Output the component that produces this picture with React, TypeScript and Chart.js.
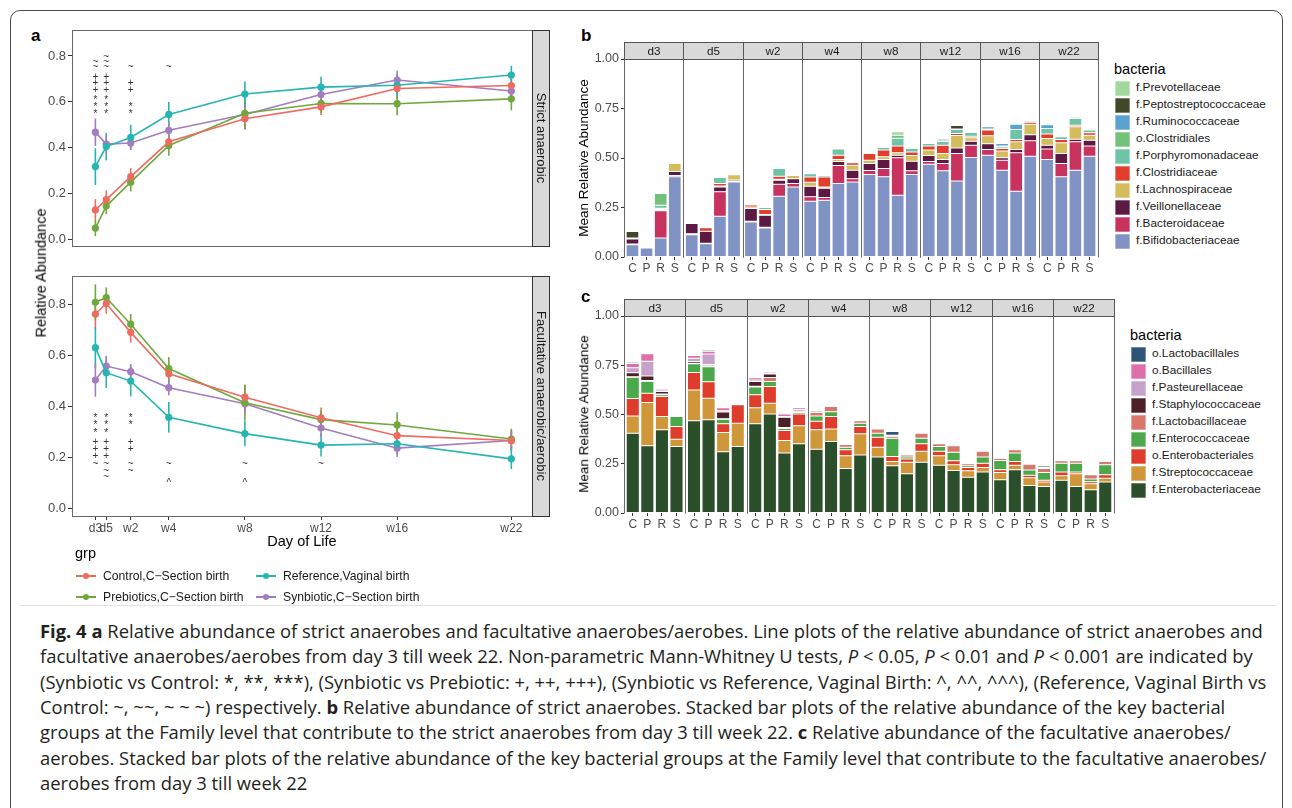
import React, { useEffect, useRef } from "react";
import { Chart, registerables } from "chart.js";

Chart.register(...registerables);

const SANS = "'Liberation Sans', Arial, Helvetica, sans-serif";
Chart.defaults.font.family = SANS;
Chart.defaults.color = "#4d4d4d";

// ================= Panel a : line plots =================
const timeLabels = ["d3", "d5", "w2", "w4", "w8", "w12", "w16", "w22"];
const timeAxisDays = [1, 5, 14, 28, 56, 84, 112, 154];
const groupNames = [
  "Control,C\u2212Section birth",
  "Prebiotics,C\u2212Section birth",
  "Reference,Vaginal birth",
  "Synbiotic,C\u2212Section birth",
];
const groupColors = ["#ee6b60", "#6fa83d", "#26b5b3", "#a27dbf"];

const strictControl = [0.129, 0.174, 0.274, 0.426, 0.526, 0.578, 0.658, 0.671];
const strictPrebiotic = [0.05, 0.146, 0.25, 0.41, 0.55, 0.593, 0.592, 0.613];
const strictReference = [0.318, 0.405, 0.445, 0.545, 0.634, 0.664, 0.672, 0.717];
const strictSynbiotic = [0.468, 0.416, 0.421, 0.476, 0.545, 0.632, 0.695, 0.647];
const strictControlErr = [0.047, 0.04, 0.037, 0.035, 0.045, 0.035, 0.045, 0.035];
const strictPrebioticErr = [0.035, 0.035, 0.04, 0.045, 0.07, 0.04, 0.05, 0.05];
const strictReferenceErr = [0.08, 0.06, 0.055, 0.055, 0.055, 0.045, 0.05, 0.04];
const strictSynbioticErr = [0.06, 0.04, 0.03, 0.035, 0.04, 0.04, 0.04, 0.035];

const facControl = [0.764, 0.805, 0.692, 0.53, 0.438, 0.357, 0.287, 0.268];
const facPrebiotic = [0.81, 0.828, 0.724, 0.55, 0.416, 0.35, 0.329, 0.274];
const facReference = [0.632, 0.534, 0.501, 0.359, 0.295, 0.25, 0.255, 0.196];
const facSynbiotic = [0.505, 0.56, 0.538, 0.475, 0.412, 0.317, 0.238, 0.268];
const facControlErr = [0.06, 0.04, 0.04, 0.04, 0.05, 0.04, 0.05, 0.04];
const facPrebioticErr = [0.07, 0.04, 0.04, 0.045, 0.07, 0.035, 0.05, 0.04];
const facReferenceErr = [0.08, 0.06, 0.06, 0.06, 0.05, 0.045, 0.04, 0.04];
const facSynbioticErr = [0.065, 0.04, 0.03, 0.03, 0.04, 0.035, 0.035, 0.035];

// significance marks: rows of "*", "+", "~", "^"
const sigSymbols = ["*", "+", "~", "^"];
const strictSigTimes = ["d3", "d5", "w2", "w4"];
const strictSigCounts = [[3, 3, 2, 0], [3, 3, 3, 0], [2, 2, 1, 0], [0, 0, 1, 0]];
const strictSigRowStart = [0.56, 0.655, 0.75, 0];
const strictSigRowStep = [0.029, 0.028, 0.022, 0];
const facSigTimes = ["d3", "d5", "w2", "w4", "w8", "w12"];
const facSigCounts = [[3, 3, 1, 0], [3, 3, 3, 0], [2, 2, 2, 0], [0, 0, 1, 1], [0, 0, 1, 1], [0, 0, 1, 0]];
const facSigRowStart = [0.368, 0.264, 0.176, 0.11];
const facSigRowStep = [-0.03, -0.027, -0.026, 0];

// ================= Panels b, c : stacked bars =================
const facetLabels = ["d3", "d5", "w2", "w4", "w8", "w12", "w16", "w22"];
const groupLetters = ["C", "P", "R", "S"];

// panel b (strict anaerobes), order per facet C,P,R,S ; stack bottom -> top
const strictTaxa = [
  "f.Bifidobacteriaceae", "f.Bacteroidaceae", "f.Veillonellaceae", "f.Lachnospiraceae",
  "f.Clostridiaceae", "f.Porphyromonadaceae", "o.Clostridiales", "f.Ruminococcaceae",
  "f.Peptostreptococcaceae", "f.Prevotellaceae",
];
const strictTaxaColors = [
  "#8093c4", "#c7325f", "#5b1944", "#d5bc5d", "#e13e2d",
  "#6dc4a7", "#74c17b", "#5aa3cf", "#3f4927", "#a3d89d",
];
const bBifidobacteriaceae = [0.062, 0.046, 0.096, 0.405, 0.113, 0.067, 0.206, 0.379, 0.177, 0.147, 0.307, 0.354, 0.282, 0.287, 0.371, 0.379, 0.417, 0.405, 0.312, 0.417, 0.469, 0.435, 0.384, 0.502, 0.514, 0.438, 0.332, 0.509, 0.492, 0.405, 0.438, 0.509];
const bBacteroidaceae = [0.004, 0.002, 0.138, 0.007, 0.004, 0.002, 0.123, 0.004, 0.003, 0.003, 0.061, 0.017, 0.022, 0.013, 0.091, 0.016, 0.02, 0.042, 0.189, 0.018, 0.013, 0.037, 0.139, 0.063, 0.029, 0.051, 0.194, 0.078, 0.054, 0.067, 0.144, 0.051];
const bVeillonellaceae = [0.025, 0, 0.004, 0.02, 0.052, 0.061, 0.025, 0.006, 0.065, 0.061, 0.02, 0.024, 0.053, 0.047, 0.02, 0.043, 0.035, 0.045, 0.013, 0.049, 0.031, 0.02, 0.028, 0.02, 0.029, 0.012, 0.017, 0.03, 0.019, 0.051, 0.013, 0.03];
const bLachnospiraceae = [0, 0.002, 0.003, 0.04, 0.003, 0, 0.005, 0.027, 0.007, 0.004, 0.005, 0.016, 0.02, 0.007, 0.01, 0.026, 0.017, 0.014, 0.012, 0.029, 0.027, 0.031, 0.063, 0.017, 0.04, 0.034, 0.039, 0.054, 0.034, 0.054, 0.063, 0.025];
const bClostridiaceae = [0, 0.006, 0.005, 0, 0, 0.018, 0.012, 0, 0.01, 0.025, 0.015, 0.006, 0.027, 0.05, 0.022, 0.012, 0.034, 0.034, 0.034, 0.017, 0.02, 0.042, 0.01, 0.008, 0.029, 0.013, 0.012, 0.01, 0.022, 0.017, 0.008, 0.012];
const bPorphyromonadaceae = [0.002, 0, 0.015, 0, 0.002, 0, 0.03, 0, 0.005, 0.01, 0.039, 0, 0.017, 0.008, 0.031, 0, 0.003, 0.013, 0.04, 0.018, 0.013, 0.018, 0.02, 0.019, 0.005, 0.008, 0.05, 0.006, 0.028, 0.013, 0.034, 0.014];
const bClostridiales = [0.003, 0, 0.06, 0, 0.002, 0, 0.003, 0, 0, 0, 0, 0, 0, 0, 0, 0, 0, 0, 0.015, 0, 0, 0.004, 0.003, 0, 0, 0.005, 0, 0, 0, 0, 0.006, 0];
const bRuminococcaceae = [0, 0, 0, 0, 0, 0, 0, 0, 0, 0, 0, 0, 0, 0, 0, 0, 0, 0, 0, 0, 0.005, 0, 0, 0, 0.012, 0.012, 0.027, 0, 0.019, 0.005, 0, 0.005];
const bPeptostreptococcaceae = [0.033, 0, 0, 0, 0, 0, 0, 0, 0, 0, 0, 0, 0.005, 0, 0, 0, 0, 0, 0, 0, 0, 0.008, 0.017, 0, 0, 0, 0, 0, 0, 0, 0.004, 0];
const bPrevotellaceae = [0, 0, 0, 0, 0, 0, 0, 0, 0, 0, 0, 0, 0, 0, 0, 0, 0, 0, 0.017, 0, 0, 0, 0, 0, 0, 0.005, 0, 0, 0, 0, 0, 0];
const strictTaxaValues = [
  bBifidobacteriaceae, bBacteroidaceae, bVeillonellaceae, bLachnospiraceae, bClostridiaceae,
  bPorphyromonadaceae, bClostridiales, bRuminococcaceae, bPeptostreptococcaceae, bPrevotellaceae,
];

// panel c (facultative anaerobes/aerobes)
const facTaxa = [
  "f.Enterobacteriaceae", "f.Streptococcaceae", "o.Enterobacteriales", "f.Enterococcaceae",
  "f.Lactobacillaceae", "f.Staphylococcaceae", "f.Pasteurellaceae", "o.Bacillales", "o.Lactobacillales",
];
const facTaxaColors = [
  "#2c4f2b", "#d0963a", "#e03c2c", "#4ba94b", "#d8786d", "#4d2029", "#c6a2cb", "#dd70ab", "#2f5478",
];
const cEnterobacteriaceae = [0.405, 0.341, 0.422, 0.338, 0.468, 0.473, 0.311, 0.338, 0.453, 0.503, 0.304, 0.351, 0.324, 0.363, 0.226, 0.294, 0.284, 0.24, 0.199, 0.257, 0.242, 0.216, 0.181, 0.208, 0.169, 0.22, 0.139, 0.135, 0.166, 0.135, 0.118, 0.157];
const cStreptococcaceae = [0.088, 0.22, 0.068, 0.037, 0.157, 0.11, 0.098, 0.118, 0.081, 0.054, 0.064, 0.092, 0.098, 0.063, 0.065, 0.108, 0.05, 0.022, 0.058, 0.057, 0.049, 0.029, 0.034, 0.023, 0.037, 0.022, 0.04, 0.022, 0.023, 0.064, 0.031, 0.02];
const cEnterobacteriales = [0.088, 0.047, 0.101, 0.064, 0.088, 0.083, 0.044, 0.093, 0.066, 0.085, 0.051, 0.06, 0.044, 0.064, 0.03, 0.037, 0.051, 0.025, 0.017, 0.037, 0.022, 0.02, 0.016, 0.022, 0.014, 0.02, 0.012, 0.009, 0.019, 0.009, 0.01, 0.017];
const cEnterococcaceae = [0.108, 0.061, 0.009, 0.051, 0.044, 0.077, 0.023, 0.006, 0.039, 0.025, 0.01, 0.007, 0.027, 0.024, 0.013, 0.017, 0.02, 0.093, 0.01, 0.029, 0.025, 0.044, 0.009, 0.031, 0.047, 0.042, 0.027, 0.04, 0.045, 0.045, 0.013, 0.051];
const cLactobacillaceae = [0.003, 0.003, 0.004, 0.004, 0.003, 0.005, 0.003, 0.002, 0.004, 0.021, 0.005, 0.006, 0.017, 0.027, 0.014, 0.012, 0.021, 0.009, 0.01, 0.025, 0.013, 0.032, 0.01, 0.029, 0.01, 0.017, 0.03, 0.02, 0.012, 0.012, 0.022, 0.017];
const cStaphylococcaceae = [0.02, 0.024, 0.013, 0.005, 0.009, 0.006, 0.034, 0.004, 0.024, 0.018, 0.052, 0.007, 0.006, 0.004, 0.003, 0.002, 0.005, 0.002, 0.002, 0.002, 0.002, 0.002, 0.002, 0.001, 0.002, 0.002, 0.002, 0.002, 0.002, 0.002, 0.001, 0.002];
const cPasteurellaceae = [0.025, 0.074, 0.008, 0.004, 0.016, 0.053, 0.006, 0.002, 0.008, 0.004, 0.004, 0.004, 0.004, 0.003, 0.004, 0.004, 0.004, 0.002, 0.003, 0.002, 0.002, 0.002, 0.002, 0.002, 0.003, 0.003, 0.003, 0.003, 0.003, 0.003, 0.002, 0.002];
const cBacillales = [0.022, 0.039, 0.006, 0.003, 0.014, 0.014, 0.015, 0.002, 0.011, 0.006, 0.012, 0.008, 0.005, 0.003, 0.003, 0.002, 0.003, 0.002, 0.002, 0, 0.002, 0, 0.001, 0, 0, 0, 0, 0, 0, 0, 0, 0];
const cLactobacillales = [0.006, 0.003, 0.003, 0, 0.004, 0.006, 0.002, 0, 0.004, 0.004, 0.002, 0.003, 0.003, 0.002, 0.002, 0.002, 0.004, 0.019, 0.001, 0.005, 0.003, 0.004, 0, 0.005, 0.002, 0.004, 0.002, 0.007, 0.003, 0.003, 0, 0.004];
const facTaxaValues = [
  cEnterobacteriaceae, cStreptococcaceae, cEnterobacteriales, cEnterococcaceae, cLactobacillaceae,
  cStaphylococcaceae, cPasteurellaceae, cBacillales, cLactobacillales,
];

// ---------- layout helpers (positions in scale units, not data) ----------
const FACET_UNITS = 4.2;
const barPositions = facetLabels.flatMap((_, i) => groupLetters.map((_, j) => i * FACET_UNITS + 0.6 + j));

// ---------- plugins ----------
function errorBarPlugin(series: number[][], errs: number[][]) {
  return {
    id: "errbars",
    beforeDatasetsDraw(chart: any) {
      const { ctx } = chart;
      const x = chart.scales.x, y = chart.scales.y;
      ctx.save();
      errs.forEach((eg, g) => {
        ctx.strokeStyle = groupColors[g];
        ctx.lineWidth = 1.6;
        eg.forEach((e, i) => {
          const v = series[g][i];
          const px = x.getPixelForValue(timeAxisDays[i]);
          ctx.beginPath();
          ctx.moveTo(px, y.getPixelForValue(v - e));
          ctx.lineTo(px, y.getPixelForValue(v + e));
          ctx.stroke();
        });
      });
      ctx.restore();
    },
  };
}

function framePlugin(strip: string) {
  return {
    id: "frame",
    afterDraw(chart: any) {
      const { ctx, chartArea } = chart;
      const { left, right, top, bottom } = chartArea;
      ctx.save();
      ctx.strokeStyle = "#6a6a6a";
      ctx.lineWidth = 1;
      ctx.strokeRect(Math.round(left) + 0.5, Math.round(top) + 0.5, Math.round(right - left), Math.round(bottom - top));
      const sw = 17;
      ctx.fillStyle = "#d9d9d9";
      ctx.fillRect(Math.round(right) + 0.5, Math.round(top) + 0.5, sw, Math.round(bottom - top));
      ctx.strokeStyle = "#333";
      ctx.strokeRect(Math.round(right) + 0.5, Math.round(top) + 0.5, sw, Math.round(bottom - top));
      ctx.translate(right + sw / 2 + 0.5, (top + bottom) / 2);
      ctx.rotate(Math.PI / 2);
      ctx.fillStyle = "#1a1a1a";
      ctx.font = `13px ${SANS}`;
      ctx.textAlign = "center";
      ctx.textBaseline = "middle";
      ctx.fillText(strip, 0, 0);
      ctx.restore();
    },
  };
}

const glyphLift: Record<string, number> = { "*": 0.55, "+": 0.34, "~": 0.3, "^": 0.5 };

function sigPlugin(times: string[], counts: number[][], start: number[], step: number[]) {
  return {
    id: "sig",
    afterDatasetsDraw(chart: any) {
      const { ctx } = chart;
      const x = chart.scales.x, y = chart.scales.y;
      const fs = 10;
      ctx.save();
      ctx.fillStyle = "#333";
      ctx.font = `${fs}px ${SANS}`;
      ctx.textAlign = "center";
      ctx.textBaseline = "alphabetic";
      times.forEach((t, c) => {
        const px = x.getPixelForValue(timeAxisDays[timeLabels.indexOf(t)]);
        counts[c].forEach((n, r) => {
          for (let k = 0; k < n; k++) {
            const py = y.getPixelForValue(start[r] + step[r] * k);
            const sym = sigSymbols[r];
            ctx.fillText(sym, px, py + glyphLift[sym] * fs);
          }
        });
      });
      ctx.restore();
    },
  };
}

function facetPlugin(labels: string[], stripH: number) {
  return {
    id: "facets",
    afterDraw(chart: any) {
      const { ctx, chartArea } = chart;
      const x = chart.scales.x;
      const { top, bottom } = chartArea;
      ctx.save();
      labels.forEach((lab, i) => {
        const l = Math.round(x.getPixelForValue(i * FACET_UNITS)) + 0.5;
        const r = Math.round(x.getPixelForValue((i + 1) * FACET_UNITS)) + 0.5;
        const st = Math.round(top - stripH) + 0.5;
        const t = Math.round(top) + 0.5;
        ctx.fillStyle = "#d9d9d9";
        ctx.fillRect(l, st, r - l, t - st);
        ctx.strokeStyle = "#555";
        ctx.lineWidth = 1;
        ctx.strokeRect(l, st, r - l, t - st);
        ctx.strokeStyle = "#6a6a6a";
        ctx.beginPath();
        ctx.moveTo(l, t);
        ctx.lineTo(l, Math.round(bottom) + 0.5);
        ctx.moveTo(r, t);
        ctx.lineTo(r, Math.round(bottom) + 0.5);
        ctx.stroke();
        ctx.fillStyle = "#1a1a1a";
        ctx.font = `11.7px ${SANS}`;
        ctx.textAlign = "center";
        ctx.textBaseline = "middle";
        ctx.fillText(lab, (l + r) / 2, (st + t) / 2 + 0.5);
      });
      ctx.restore();
    },
  };
}

// ---------- configs ----------
function lineConfig(
  series: number[][], errs: number[][], strip: string, showX: boolean,
  sigTimes: string[], sigCounts: number[][], sigStart: number[], sigStep: number[]
) {
  return {
    type: "line",
    data: {
      datasets: series.map((vals, g) => ({
        label: groupNames[g],
        data: vals.map((v, i) => ({ x: timeAxisDays[i], y: v })),
        borderColor: groupColors[g],
        backgroundColor: groupColors[g],
        pointBackgroundColor: groupColors[g],
        borderWidth: 1.6,
        pointRadius: 3.6,
        pointBorderWidth: 0,
        tension: 0,
        fill: false,
      })),
    },
    options: {
      animation: false,
      responsive: false,
      events: [],
      layout: { padding: { top: 10, right: 20, bottom: 0, left: 0 } },
      plugins: { legend: { display: false }, tooltip: { enabled: false } },
      scales: {
        x: {
          type: "linear",
          min: -7.6,
          max: 161.6,
          display: showX,
          afterBuildTicks: (s: any) => { s.ticks = timeAxisDays.map((v) => ({ value: v })); },
          afterFit: (s: any) => { s.height = 22; },
          ticks: {
            autoSkip: false, maxRotation: 0, minRotation: 0, padding: 1,
            color: "#4d4d4d", font: { size: 12 },
            callback: (_v: any, i: number) => timeLabels[i],
          },
          grid: { drawOnChartArea: false, drawTicks: true, tickLength: 4, color: "#333" },
          border: { display: false },
        },
        y: {
          min: -0.028,
          max: 0.913,
          afterBuildTicks: (s: any) => { s.ticks = [0, 0.2, 0.4, 0.6, 0.8].map((v) => ({ value: v })); },
          afterFit: (s: any) => { s.width = 52; },
          ticks: { padding: 2, color: "#4d4d4d", font: { size: 13 }, callback: (v: any) => Number(v).toFixed(1) },
          grid: { drawOnChartArea: false, drawTicks: true, tickLength: 4, color: "#333" },
          border: { display: false },
        },
      },
    },
    plugins: [errorBarPlugin(series, errs), framePlugin(strip), sigPlugin(sigTimes, sigCounts, sigStart, sigStep)],
  };
}

function barConfig(values: number[][], colors: string[], names: string[], padTop: number) {
  return {
    type: "bar",
    data: {
      datasets: values.map((vals, k) => ({
        label: names[k],
        data: vals.map((v, i) => ({ x: barPositions[i], y: v })),
        backgroundColor: colors[k],
        borderColor: "rgba(255,255,255,0.35)",
        borderWidth: 0.5,
        borderSkipped: false,
        barPercentage: 0.9,
        categoryPercentage: 1,
      })),
    },
    options: {
      animation: false,
      responsive: false,
      events: [],
      layout: { padding: { top: padTop, right: 2, bottom: 0, left: 0 } },
      plugins: { legend: { display: false }, tooltip: { enabled: false } },
      scales: {
        x: {
          type: "linear",
          min: 0,
          max: FACET_UNITS * facetLabels.length,
          offset: false,
          stacked: true,
          afterBuildTicks: (s: any) => { s.ticks = barPositions.map((v) => ({ value: v })); },
          afterFit: (s: any) => { s.height = 18; },
          ticks: {
            autoSkip: false, maxRotation: 0, minRotation: 0, padding: 1,
            color: "#4d4d4d", font: { size: 12 },
            callback: (_v: any, i: number) => groupLetters[i % 4],
          },
          grid: { offset: false, drawOnChartArea: false, drawTicks: true, tickLength: 3, color: "#333" },
          border: { display: false },
        },
        y: {
          min: 0,
          max: 1,
          stacked: true,
          afterBuildTicks: (s: any) => { s.ticks = [0, 0.25, 0.5, 0.75, 1].map((v) => ({ value: v })); },
          afterFit: (s: any) => { s.width = 54; },
          ticks: { padding: 2, color: "#4d4d4d", font: { size: 12.5 }, callback: (v: any) => Number(v).toFixed(2) },
          grid: { drawOnChartArea: false, drawTicks: true, tickLength: 3, color: "#333" },
          border: { display: false },
        },
      },
    },
    plugins: [facetPlugin(facetLabels, 17)],
  };
}

// ---------- components ----------
function ChartCanvas({ left, top, width, height, make }: { left: number; top: number; width: number; height: number; make: () => any }) {
  const ref = useRef<HTMLCanvasElement | null>(null);
  useEffect(() => {
    if (!ref.current) return;
    const chart = new Chart(ref.current, make());
    return () => chart.destroy();
  }, []);
  return (
    <canvas
      ref={ref}
      width={width}
      height={height}
      style={{ position: "absolute", left, top, width, height }}
    />
  );
}

function T({ x, y, size, children, bold, color, rotate, center }: any) {
  return (
    <div
      style={{
        position: "absolute",
        left: x,
        top: y,
        fontFamily: SANS,
        fontSize: size,
        fontWeight: bold ? 700 : 400,
        color: color || "#000",
        lineHeight: 1,
        whiteSpace: "nowrap",
        transform: rotate
          ? "translate(-50%, -50%) rotate(-90deg)"
          : center
          ? "translate(-50%, -50%)"
          : "translateY(-50%)",
      }}
    >
      {children}
    </div>
  );
}

function BarLegend({ x, y, names, colors }: { x: number; y: number; names: string[]; colors: string[] }) {
  const items = names.map((n, i) => ({ n, c: colors[i] })).reverse();
  return (
    <>
      <T x={x - 1} y={y} size={14.5}>bacteria</T>
      {items.map((it, k) => (
        <React.Fragment key={it.n}>
          <div
            style={{
              position: "absolute",
              left: x,
              top: y + 19 + k * 17 - 7.5,
              width: 15,
              height: 15,
              background: it.c,
              boxShadow: "inset 0 0 0 0.6px rgba(255,255,255,0.6)",
            }}
          />
          <T x={x + 21} y={y + 19 + k * 17} size={11.8} color="#1a1a1a">{it.n}</T>
        </React.Fragment>
      ))}
    </>
  );
}

function LineKey({ x, y, color }: { x: number; y: number; color: string }) {
  return (
    <>
      <div style={{ position: "absolute", left: x, top: y - 0.8, width: 20, height: 1.6, background: color }} />
      <div style={{ position: "absolute", left: x + 10 - 3.2, top: y - 3.2, width: 6.4, height: 6.4, borderRadius: "50%", background: color }} />
    </>
  );
}

const captionStyle: React.CSSProperties = {
  position: "absolute",
  left: 40,
  fontFamily: "'Open Sans', 'Noto Sans', sans-serif",
  fontSize: 18.4,
  color: "#231f20",
  whiteSpace: "nowrap",
  lineHeight: 1,
  transform: "translateY(-50%)",
};

export default function App() {
  const strictSeries = [strictControl, strictPrebiotic, strictReference, strictSynbiotic];
  const strictErrs = [strictControlErr, strictPrebioticErr, strictReferenceErr, strictSynbioticErr];
  const facSeries = [facControl, facPrebiotic, facReference, facSynbiotic];
  const facErrs = [facControlErr, facPrebioticErr, facReferenceErr, facSynbioticErr];
  const capY = [631, 656.3, 681.6, 706.9, 732.2, 757.5, 782.8];
  const B = (s: string) => <b style={{ fontWeight: 700 }}>{s}</b>;
  const I = (s: string) => <i>{s}</i>;

  return (
    <div style={{ position: "absolute", left: 0, top: 0, width: 1292, height: 808, overflow: "hidden", background: "#fff" }}>
      <div style={{ position: "absolute", left: 10, top: 10, width: 1271, height: 840, border: "1px solid #4a4a4a", borderRadius: 10 }} />

      {/* panel a */}
      <T x={31} y={35} size={17} bold>a</T>
      <ChartCanvas
        left={20} top={20} width={532} height={248}
        make={() => lineConfig(strictSeries, strictErrs, "Strict anaerobic", false, strictSigTimes, strictSigCounts, strictSigRowStart, strictSigRowStep)}
      />
      <ChartCanvas
        left={20} top={266} width={532} height={272}
        make={() => lineConfig(facSeries, facErrs, "Facultative anaerobic/aerobic", true, facSigTimes, facSigCounts, facSigRowStart, facSigRowStep)}
      />
      <T x={41} y={273} size={14.5} rotate>Relative Abundance</T>
      <T x={302} y={541} size={14.5} center>Day of Life</T>
      <T x={75} y={553} size={14.5}>grp</T>
      <LineKey x={76} y={576} color={groupColors[0]} />
      <T x={103} y={576} size={12.2} color="#1a1a1a">{groupNames[0]}</T>
      <LineKey x={256} y={576} color={groupColors[2]} />
      <T x={283} y={576} size={12.2} color="#1a1a1a">{groupNames[2]}</T>
      <LineKey x={76} y={597} color={groupColors[1]} />
      <T x={103} y={597} size={12.2} color="#1a1a1a">{groupNames[1]}</T>
      <LineKey x={256} y={597} color={groupColors[3]} />
      <T x={283} y={597} size={12.2} color="#1a1a1a">{groupNames[3]}</T>

      {/* panel b */}
      <T x={581} y={35} size={17} bold>b</T>
      <ChartCanvas left={570} top={30} width={530} height={245} make={() => barConfig(strictTaxaValues, strictTaxaColors, strictTaxa, 29)} />
      <T x={584} y={158} size={13.5} rotate>Mean Relative Abundance</T>
      <BarLegend x={1115} y={69} names={strictTaxa} colors={strictTaxaColors} />

      {/* panel c */}
      <T x={581} y={296} size={17} bold>c</T>
      <ChartCanvas left={570} top={285} width={546} height={246} make={() => barConfig(facTaxaValues, facTaxaColors, facTaxa, 31)} />
      <T x={584} y={414} size={13.5} rotate>Mean Relative Abundance</T>
      <BarLegend x={1131} y={335} names={facTaxa} colors={facTaxaColors} />

      <div style={{ position: "absolute", left: 20, top: 605, width: 1256, height: 0, borderTop: "1px solid #e2e2e2" }} />

      {/* caption */}
      <div style={{ ...captionStyle, top: capY[0] }}>
        {B("Fig. 4")} {B("a")} Relative abundance of strict anaerobes and facultative anaerobes/aerobes. Line plots of the relative abundance of strict anaerobes and
      </div>
      <div style={{ ...captionStyle, top: capY[1] }}>
        facultative anaerobes/aerobes from day 3 till week 22. Non-parametric Mann-Whitney U tests, {I("P")} &lt; 0.05, {I("P")} &lt; 0.01 and {I("P")} &lt; 0.001 are indicated by
      </div>
      <div style={{ ...captionStyle, top: capY[2] }}>
        (Synbiotic vs Control: *, **, ***), (Synbiotic vs Prebiotic: +, ++, +++), (Synbiotic vs Reference, Vaginal Birth: ^, ^^, ^^^), (Reference, Vaginal Birth vs
      </div>
      <div style={{ ...captionStyle, top: capY[3] }}>
        Control: ~, ~~, ~ ~ ~) respectively. {B("b")} Relative abundance of strict anaerobes. Stacked bar plots of the relative abundance of the key bacterial
      </div>
      <div style={{ ...captionStyle, top: capY[4] }}>
        groups at the Family level that contribute to the strict anaerobes from day 3 till week 22. {B("c")} Relative abundance of the facultative anaerobes/
      </div>
      <div style={{ ...captionStyle, top: capY[5] }}>
        aerobes. Stacked bar plots of the relative abundance of the key bacterial groups at the Family level that contribute to the facultative anaerobes/
      </div>
      <div style={{ ...captionStyle, top: capY[6] }}>aerobes from day 3 till week 22</div>
    </div>
  );
}
